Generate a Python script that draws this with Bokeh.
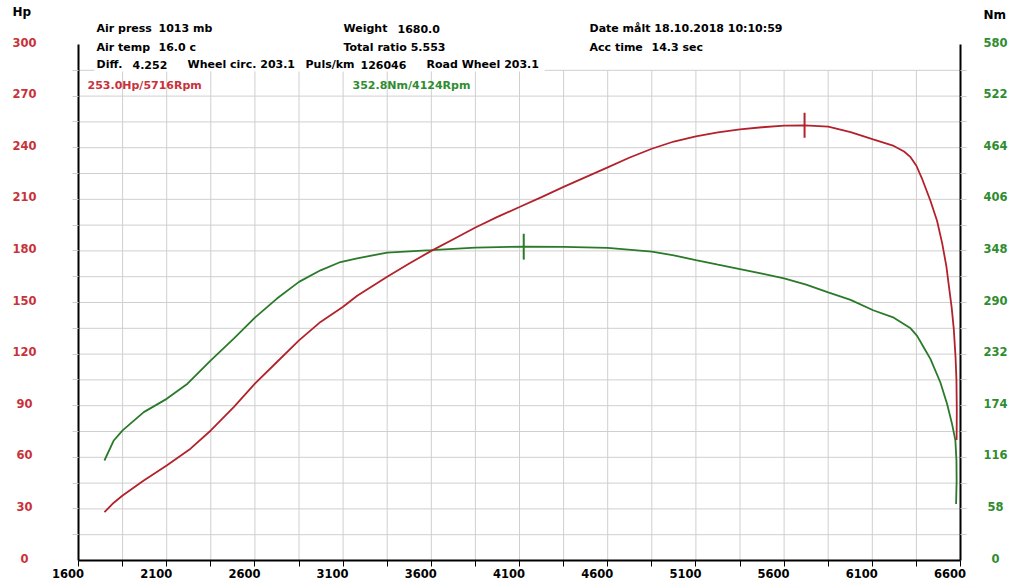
import numpy as np
from bokeh.plotting import figure
from bokeh.models import (Range1d, LinearAxis, FixedTicker, CustomJSTickFormatter,
                          Label, LabelSet, ColumnDataSource)
from bokeh.core.properties import value
from bokeh.embed import file_html
from bokeh.resources import INLINE

# ---------------- data ----------------
hp_rpm = [1747, 1800, 1850, 1970, 2100, 2235, 2350, 2480, 2600, 2725, 2850, 2972, 3100,
          3180, 3350, 3475, 3600, 3725, 3850, 3975, 4100, 4225, 4350, 4600, 4725, 4850,
          4975, 5100, 5225, 5350, 5475, 5600, 5716, 5850, 5977, 6105, 6222, 6280, 6317,
          6350, 6380, 6429, 6467, 6496, 6520, 6533, 6550, 6562, 6572, 6577, 6579, 6578]
hp_val = [28.1, 33.6, 37.8, 46.5, 55.2, 65.0, 75.6, 89.2, 102.8, 115.4, 128.0, 138.7, 147.5,
          153.9, 165.0, 172.7, 180.0, 186.8, 193.6, 199.8, 205.5, 211.3, 217.2, 228.6, 234.3, 239.4,
          243.6, 246.6, 248.9, 250.6, 251.9, 252.8, 253.0, 252.2, 249.1, 244.8, 241.0, 237.8, 234.5,
          229.5, 222.5, 209.3, 197.5, 184.5, 171.0, 160.5, 147.0, 134.5, 118.0, 105.0, 88.0, 70.0]

nm_rpm = [1747, 1800, 1850, 1970, 2100, 2218, 2350, 2480, 2600, 2725, 2850, 2972, 3085,
          3180, 3350, 3600, 3850, 4124, 4350, 4600, 4850, 4975, 5100, 5225, 5350, 5475,
          5600, 5725, 5850, 5977, 6105, 6222, 6317, 6354, 6392, 6430, 6486, 6524, 6552,
          6571, 6577, 6578, 6575]
nm_val = [112.4, 134.9, 146.2, 166.8, 181.7, 198.7, 225.0, 249.4, 273.0, 294.4, 313.2, 326.2, 335.5,
          339.7, 346.1, 348.8, 351.7, 352.8, 352.6, 351.4, 347.3, 343.0, 337.6, 332.5, 327.5, 322.5,
          317.1, 310.0, 301.4, 292.9, 281.3, 272.9, 261.0, 252.5, 239.4, 226.4, 200.1, 175.9, 153.6,
          135.0, 112.3, 89.8, 63.6]

peak_hp, peak_hp_rpm = 253.0, 5716
peak_nm, peak_nm_rpm = 352.8, 4124

rpm_ticks = [1600, 2100, 2600, 3100, 3600, 4100, 4600, 5100, 5600, 6100, 6600]
rpm_minor = [1600 + 250 * k for k in range(21)]
hp_ticks = [0, 30, 60, 90, 120, 150, 180, 210, 240, 270, 300]
nm_ticks = [0, 58, 116, 174, 232, 290, 348, 406, 464, 522, 580]
hp_grid = [15 * k for k in range(1, 20)]
nm_grid = [29 * k for k in range(1, 20)]
rpm_grid = rpm_minor[1:-1]

info_rows = [
    [("Air press", 96), ("1013 mb", 158), ("Weight", 343), ("1680.0", 397),
     ("Date målt 18.10.2018 10:10:59", 589)],
    [("Air temp", 96), ("16.0 c", 158), ("Total ratio 5.553", 343), ("Acc time", 589),
     ("14.3 sec", 651)],
    [("Diff.", 96), ("4.252", 132), ("Wheel circ. 203.1", 187), ("Puls/km", 305),
     ("126046", 360), ("Road Wheel 203.1", 426)],
]
info_row_y = [28, 47, 64]

RED_LINE = "#b3222c"
RED_TXT = "#c8323a"
GREEN_LINE = "#2a7a2a"
GREEN_TXT = "#2f8c2f"
GRID = "#cfcfcf"
FONT = "DejaVu Sans"
FS = "11px"
FS_TICK = "11.5px"

X0, X1, R0, R1, NM1 = 1600, 6600, 0, 300, 580

# pixel -> data helpers (axes box: x 78..960, y 44..560 on a 1024x588 canvas)
def rx(px):
    return X0 + (px - 78) * (X1 - X0) / 882.0

def hy(py):
    return (560 - py) * (R1 - R0) / 516.0

p = figure(width=1024, height=588, output_backend="svg", toolbar_location=None,
           x_range=Range1d(rx(0), rx(1024)), y_range=Range1d(hy(588), hy(0)),
           x_axis_location=None, y_axis_location=None, title=None,
           min_border=0, min_border_left=0, min_border_right=0,
           min_border_top=0, min_border_bottom=0)
p.extra_y_ranges = {"nm": Range1d(hy(588) * NM1 / R1, hy(0) * NM1 / R1)}
p.outline_line_color = None
p.background_fill_color = "white"
p.border_fill_color = "white"
p.xgrid.visible = False
p.ygrid.visible = False

empty = CustomJSTickFormatter(code="return ''")

# grid lines
p.segment(x0=[X0] * len(hp_grid), y0=hp_grid, x1=[X1] * len(hp_grid), y1=hp_grid,
          line_color=GRID, line_width=1)
p.segment(x0=rpm_grid, y0=[R0] * len(rpm_grid), x1=rpm_grid, y1=[hp_grid[-1]] * len(rpm_grid),
          line_color=GRID, line_width=1)

# axes
def style_axis(ax, tick_color):
    ax.formatter = empty
    ax.major_tick_out = 6
    ax.major_tick_in = 0
    ax.major_tick_line_color = tick_color
    ax.minor_tick_line_color = None
    ax.axis_line_width = 2
    ax.axis_line_color = "black"
    ax.major_label_standoff = 0

xa = LinearAxis(fixed_location=R0, bounds=(X0, X1), ticker=FixedTicker(ticks=rpm_minor))
style_axis(xa, "black")
p.add_layout(xa, "below")

ya = LinearAxis(fixed_location=X0, bounds=(R0, R1), ticker=FixedTicker(ticks=hp_grid))
style_axis(ya, GRID)
p.add_layout(ya, "left")

ra = LinearAxis(y_range_name="nm", fixed_location=X1, bounds=(0, NM1),
                ticker=FixedTicker(ticks=nm_grid))
style_axis(ra, GRID)
p.add_layout(ra, "right")

# curves
p.line(nm_rpm, nm_val, y_range_name="nm", line_color=GREEN_LINE, line_width=1.8)
p.line(hp_rpm, hp_val, line_color=RED_LINE, line_width=1.8)
p.scatter([peak_nm_rpm], [peak_nm], y_range_name="nm", marker="dash", angle=np.pi / 2,
          size=26, line_color=GREEN_LINE, line_width=2)
p.scatter([peak_hp_rpm], [peak_hp], marker="dash", angle=np.pi / 2,
          size=25, line_color=RED_LINE, line_width=2)

# tick labels
def tick_labels(xs, ys, texts, color, xoff, yoff, rng=None):
    src = ColumnDataSource(dict(x=xs, y=ys, t=texts))
    kw = dict(x="x", y="y", text="t", source=src, x_offset=xoff, y_offset=yoff,
              text_align="center", text_baseline="middle", text_color=color,
              text_font=value(FONT), text_font_style="bold", text_font_size=FS_TICK)
    if rng:
        kw["y_range_name"] = rng
    p.add_layout(LabelSet(**kw))

tick_labels([X0] * len(hp_ticks), hp_ticks, [str(v) for v in hp_ticks], RED_TXT, -54, 2.5)
tick_labels([X1] * len(nm_ticks), nm_ticks, [str(v) for v in nm_ticks], GREEN_TXT, 35, 2.5, "nm")
tick_labels(rpm_ticks, [R0] * len(rpm_ticks), [str(v) for v in rpm_ticks], "black", -10.5, -13)

# text labels
def lab(px, py, text, color="black", size=FS):
    p.add_layout(Label(x=rx(px), y=hy(py), text=text, text_align="left", text_baseline="middle",
                       text_color=color, text_font=FONT, text_font_style="bold",
                       text_font_size=size))

lab(12, 11, "Hp", size="12px")
lab(983, 14, "Nm", size="12px")

# white strip behind the third info row (hides the top grid line there)
p.add_layout(Label(x=rx(94), y=hy(64), text="\u00a0" * 118, text_align="left",
                   text_baseline="middle", text_font=FONT, text_font_size="12px",
                   background_fill_color="white"))
for row, py in zip(info_rows, info_row_y):
    for t, px in row:
        lab(px, py, t)

lab(87, 85, f"{peak_hp:.1f}Hp/{peak_hp_rpm}Rpm", color=RED_TXT)
lab(352, 85, f"{peak_nm:.1f}Nm/{peak_nm_rpm}Rpm", color=GREEN_TXT)

open("out.html", "w").write(file_html(p, INLINE))
